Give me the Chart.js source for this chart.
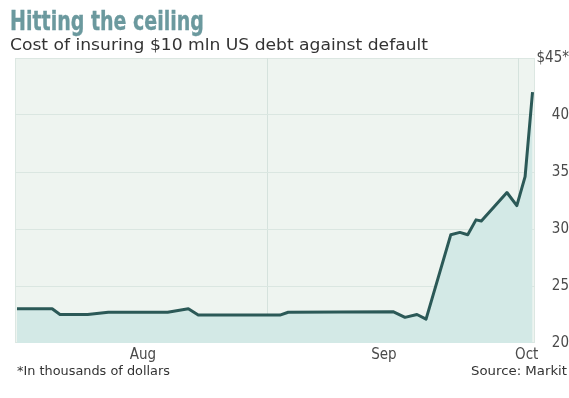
<!DOCTYPE html>
<html>
<head>
<meta charset="utf-8">
<script src="https://cdn.jsdelivr.net/npm/chart.js@4/dist/chart.umd.min.js"></script>
<style>
  html, body { margin:0; padding:0; background:#fff; }
  #wrap { position:relative; width:569px; height:398px; overflow:hidden; }
  canvas { position:absolute; left:0; top:0; }
  .txt { position:absolute; white-space:nowrap; line-height:1; transform-origin:left top; }
  #title { left:10px; top:7px; font-weight:bold; font-size:27px; font-family:"DejaVu Sans Condensed", "DejaVu Sans", sans-serif; color:#6b999e; -webkit-text-stroke:0.35px #6b999e; }
  #sub { left:10px; top:37px; font-size:16px; font-family:"DejaVu Sans", sans-serif; color:#333; }
  #note { left:17px; top:365px; font-size:12px; font-family:"DejaVu Sans", sans-serif; color:#333; }
  #src { left:471px; top:365px; font-size:12px; font-family:"DejaVu Sans", sans-serif; color:#333; }
</style>
</head>
<body>
<div id="wrap">
  <canvas id="chart" width="569" height="398"></canvas>
  <div class="txt" id="title">Hitting the ceiling</div>
  <div class="txt" id="sub">Cost of insuring $10 mln US debt against default</div>
  <div class="txt" id="note">*In thousands of dollars</div>
  <div class="txt" id="src">Source: Markit</div>
</div>
<script>
// ======= Data (days counted from Aug 1) =======
const days   = [0.24, 4.5, 5.45, 8.8, 11.3, 18.5, 21.0, 22.2, 32.1, 33.1, 45.8, 47.25, 48.7, 49.8, 52.8, 53.9, 54.85, 55.85, 56.5, 59.6, 60.8, 61.8, 62.7];
const prices = [23.0, 23.0, 22.5, 22.5, 22.7, 22.7, 23.0, 22.45, 22.45, 22.7, 22.75, 22.25, 22.5, 22.1, 29.5, 29.7, 29.5, 30.8, 30.7, 33.2, 32.05, 34.6, 42.0];

// month labels sit mid-month, gridlines at month boundaries
const monthLabelDays = [15.5, 44.7, 62.0];
const monthLabels    = ["Aug", "Sep", "Oct"];
const monthLineDays  = [30.65, 61.05];

const yTicks = [20, 25, 30, 35, 40, 45];

const points = days.map((d, i) => ({x: d, y: prices[i]}));
const xTickValues = monthLabelDays.concat(monthLineDays).sort((a, b) => a - b);

// squeeze html texts to the widths of the original
function fitText(id, w) {
  const el = document.getElementById(id);
  const cur = el.getBoundingClientRect().width;
  el.style.transform = "scaleX(" + (w / cur) + ")";
}
fitText("title", 194);
fitText("sub", 418);
fitText("note", 153);
fitText("src", 96);

// plot background + border
const plotBg = {
  id: "plotBg",
  beforeDraw(chart) {
    const {ctx, chartArea: a} = chart;
    ctx.save();
    ctx.fillStyle = "#eef4f0";
    ctx.fillRect(a.left, a.top, a.right - a.left, a.bottom - a.top);
    ctx.strokeStyle = "#dce7e2";
    ctx.lineWidth = 1;
    ctx.strokeRect(a.left + 0.5, a.top + 0.5, a.right - a.left - 1, a.bottom - a.top - 1);
    ctx.restore();
  }
};

const narrow = '"DejaVu Sans Condensed", "DejaVu Sans", sans-serif';

new Chart(document.getElementById("chart"), {
  type: "line",
  data: {
    datasets: [{
      data: points,
      borderColor: "#2b5957",
      borderWidth: 3,
      backgroundColor: "#d3e9e6",
      fill: "start",
      pointRadius: 0,
      tension: 0,
      borderJoinStyle: "round"
    }]
  },
  options: {
    responsive: false,
    animation: false,
    devicePixelRatio: 1,
    layout: { padding: { left: 15, right: 0, top: 58, bottom: 35 } },
    plugins: { legend: { display: false }, tooltip: { enabled: false } },
    scales: {
      x: {
        type: "linear",
        min: 0,
        max: 63,
        afterFit: s => { s.height = 20; },
        afterBuildTicks: s => { s.ticks = xTickValues.map(v => ({value: v})); },
        border: { display: false },
        grid: {
          drawTicks: false,
          color: c => monthLineDays.includes(c.tick && c.tick.value) ? "#d5e2dd" : "rgba(0,0,0,0)"
        },
        ticks: {
          autoSkip: false,
          maxRotation: 0,
          padding: 3,
          color: "#4a4a4a",
          font: { family: narrow, size: 15 },
          callback: v => {
            const i = monthLabelDays.indexOf(v);
            return i >= 0 ? monthLabels[i] : "";
          }
        }
      },
      y: {
        position: "right",
        min: 20,
        max: 45,
        afterFit: s => { s.width = 34; },
        afterBuildTicks: s => { s.ticks = yTicks.map(v => ({value: v})); },
        border: { display: false },
        grid: {
          drawTicks: false,
          color: c => (c.tick && (c.tick.value === 20 || c.tick.value === 45)) ? "rgba(0,0,0,0)" : "#dae6e1"
        },
        ticks: {
          crossAlign: "far",
          padding: 0,
          color: "#4a4a4a",
          font: { family: narrow, size: 15 },
          callback: v => v === 45 ? "$45*" : String(v)
        }
      }
    }
  },
  plugins: [plotBg]
});
</script>
</body>
</html>
